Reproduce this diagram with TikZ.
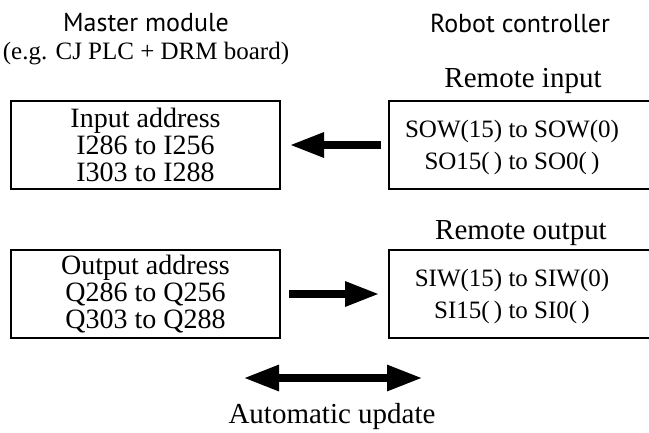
\documentclass[tikz,border=0pt]{standalone}
\usepackage{fontspec}
\setmainfont{Liberation Serif}
\setsansfont{PT Sans}
\usetikzlibrary{positioning,calc,arrows.meta}

\begin{document}
\begin{tikzpicture}[
  x=1pt, y=-1pt,
  frame/.style={draw, line width=2pt, minimum height=88pt, inner sep=0pt},
  addr/.style={frame, minimum width=269pt, align=center,
               font=\fontsize{28pt}{27pt}\selectfont},
  remtxt/.style={align=center, inner sep=0pt, font=\fontsize{25pt}{32pt}\selectfont},
  hdr/.style={anchor=base, inner sep=0pt, font=\sffamily\fontsize{26pt}{28pt}\selectfont},
  lbl/.style={anchor=base, inner sep=0pt, font=\fontsize{29pt}{32pt}\selectfont},
  fat/.style={line width=8.5pt, -{Triangle[length=35pt,width=23pt]}},
  dbl/.style={line width=8.5pt, {Triangle[length=36pt,width=24pt]}-{Triangle[length=36pt,width=24pt]}}
]
\clip (0,0) rectangle (649,432);

% headings
\node[hdr] (master) at (146,31) {Master module};
\node[lbl, font=\fontsize{25pt}{28pt}\selectfont] (board) at (146,59) {(e.g. CJ PLC + DRM board)};
\node[hdr] (robot) at (520,32) {Robot controller};

% master module side
\node[addr] (inaddr)  at (145.5,145) {Input address\\I286 to I256\\I303 to I288};
\node[addr] (outaddr) at (145.5,294) {Output address\\Q286 to Q256\\Q303 to Q288};

% robot side, the frames run off the right edge
\node[frame, minimum width=300pt, anchor=west] (sobox) at (388,145) {};
\node[frame, minimum width=300pt, anchor=west] (sibox) at (388,294) {};
\node[remtxt] (sow) at (512,147) {SOW(15) to SOW(0)\\SO15(\,) to SO0(\,)};
\node[remtxt] (siw) at (512,296) {SIW(15) to SIW(0)\\SI15(\,) to SI0(\,)};
\node[lbl] (remin)  at (523,87)  {Remote input};
\node[lbl] (remout) at (521,239) {Remote output};

\draw[fat] ([xshift=-7pt]sobox.west) -- ([xshift=8pt]inaddr.east);
\draw[fat] ([xshift=8pt]outaddr.east) -- ([xshift=-8pt]sibox.west);

% update arrow
\coordinate (updl) at (243,378);
\coordinate (updr) at (423,378);
\draw[dbl] (updl) -- (updr);
\node[lbl] (upd) at (332,423) {Automatic update};
\end{tikzpicture}
\end{document}
